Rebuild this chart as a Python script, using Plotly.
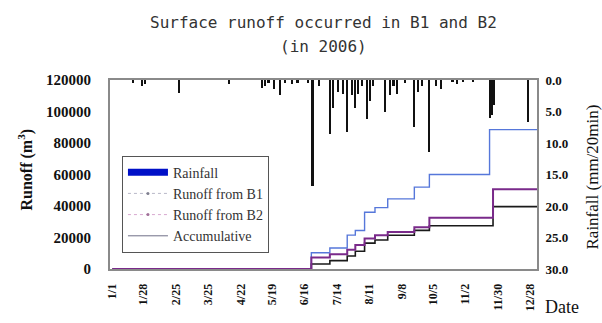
import plotly.graph_objects as go

# ---------------- data ----------------
rain_dates = ["2006-01-19", "2006-01-27", "2006-01-29", "2006-02-28", "2006-04-12",
              "2006-05-10", "2006-05-13", "2006-05-16", "2006-05-21", "2006-05-26",
              "2006-05-30", "2006-06-05", "2006-06-10", "2006-06-19", "2006-06-23",
              "2006-06-29", "2006-07-08", "2006-07-11", "2006-07-15", "2006-07-19",
              "2006-07-23", "2006-07-27", "2006-07-30", "2006-08-01", "2006-08-05",
              "2006-08-09", "2006-08-12", "2006-08-14", "2006-08-25", "2006-08-29",
              "2006-09-01", "2006-09-04", "2006-09-11", "2006-09-19", "2006-09-22",
              "2006-09-26", "2006-10-02", "2006-10-08", "2006-10-12", "2006-10-22",
              "2006-10-26", "2006-10-31", "2006-11-09", "2006-11-23", "2006-11-25",
              "2006-11-27", "2006-12-26"]
rain_mm = [0.4, 0.9, 0.7, 2.1, 0.6,
           1.2, 0.9, 0.4, 1.4, 2.4,
           0.5, 0.7, 0.4, 0.5, 16.8,
           0.9, 8.5, 4.4, 1.9, 2.3,
           8.2, 2.4, 4.4, 2.3, 0.9,
           6.2, 3.4, 1.0, 5.0, 2.4,
           0.9, 2.2, 0.4, 7.4, 1.9,
           0.9, 11.5, 1.0, 1.5, 0.3,
           0.6, 0.3, 0.2, 6.0, 5.5,
           4.0, 6.6]

step_dates = ["2006-01-01", "2006-06-22", "2006-07-08", "2006-07-23", "2006-07-30",
              "2006-08-07", "2006-08-16", "2006-08-27", "2006-09-19", "2006-10-02",
              "2006-11-26", "2007-01-03"]
runoff_b1 = [0, 3200, 5300, 8300, 11300, 16400, 18400, 21400, 24500, 27500, 39600, 39600]
runoff_b2 = [0, 7300, 9300, 12300, 15300, 19400, 21400, 23500, 26500, 32500, 50700, 50700]

accum_dates = ["2006-02-10", "2006-06-22", "2006-07-08", "2006-07-23", "2006-07-30",
               "2006-08-07", "2006-08-16", "2006-08-27", "2006-09-19", "2006-10-02",
               "2006-11-23", "2007-01-03"]
accumulative = [0, 10300, 13300, 21500, 24400, 36000, 39000, 44500, 52000, 60000, 88500, 88500]

tick_dates = ["2006-01-01", "2006-01-28", "2006-02-25", "2006-03-25", "2006-04-22",
              "2006-05-19", "2006-06-16", "2006-07-14", "2006-08-11", "2006-09-08",
              "2006-10-05", "2006-11-02", "2006-11-30", "2006-12-28"]
tick_labels = ["1/1", "1/28", "2/25", "3/25", "4/22", "5/19", "6/16", "7/14",
               "8/11", "9/8", "10/5", "11/2", "11/30", "12/28"]

# ---------------- figure ----------------
SERIF = "Liberation Serif"
fig = go.Figure()

fig.add_trace(go.Bar(x=rain_dates, y=rain_mm, yaxis="y2", width=1.8 * 86400000,
                     marker=dict(color="#111111", line=dict(width=0)),
                     showlegend=False, name="Rainfall"))

fig.add_trace(go.Scatter(x=accum_dates, y=accumulative, mode="lines", line_shape="hv",
                         line=dict(color="#5677da", width=1.4), showlegend=False))
fig.add_trace(go.Scatter(x=step_dates, y=runoff_b1, mode="lines", line_shape="hv",
                         line=dict(color="#1a1a1a", width=1.6), showlegend=False))
fig.add_trace(go.Scatter(x=step_dates, y=runoff_b2, mode="lines", line_shape="hv",
                         line=dict(color="#7a2a8a", width=2.0), showlegend=False))

# legend entries
fig.add_trace(go.Scatter(x=[None], y=[None], mode="lines", name="Rainfall",
                         line=dict(color="#0010c8", width=7)))
fig.add_trace(go.Scatter(x=[None], y=[None], mode="lines+markers", name="Runoff from B1",
                         line=dict(color="#b8b8c8", width=1, dash="dot"),
                         marker=dict(color="#808090", size=3)))
fig.add_trace(go.Scatter(x=[None], y=[None], mode="lines+markers", name="Runoff from B2",
                         line=dict(color="#d8a8d0", width=1, dash="dot"),
                         marker=dict(color="#a07098", size=3)))
fig.add_trace(go.Scatter(x=[None], y=[None], mode="lines", name="Accumulative",
                         line=dict(color="#707088", width=1)))

fig.update_layout(
    width=602, height=323,
    margin=dict(l=110, r=65, t=80, b=45),
    paper_bgcolor="white", plot_bgcolor="white",
    showlegend=True,
    legend=dict(x=0.028, y=0.60, xanchor="left", yanchor="top",
                bgcolor="white", bordercolor="#555555", borderwidth=1,
                font=dict(family=SERIF, size=14, color="#333333"),
                itemwidth=40, tracegroupgap=0),
    xaxis=dict(type="date", range=["2005-12-30", "2007-01-03"],
               tickvals=tick_dates, ticktext=tick_labels, tickangle=-90,
               tickfont=dict(family=SERIF, size=12, color="#111111", weight="bold"),
               showgrid=False, zeroline=False, showline=True, linecolor="#8a8a8a",
               linewidth=2, mirror=True, ticks="", ticklabelstandoff=8),
    yaxis=dict(range=[0, 120000], dtick=20000, tickformat="d",
               tickfont=dict(family=SERIF, size=15, color="#111111", weight="bold"),
               showgrid=False, zeroline=False, showline=True, linecolor="#8a8a8a",
               linewidth=2, mirror=True, ticks="", ticklabelstandoff=14),
    yaxis2=dict(range=[30, 0], dtick=5, tickformat=".1f", overlaying="y", side="right",
                tickfont=dict(family=SERIF, size=13, color="#111111", weight="bold"),
                showgrid=False, zeroline=False, showline=True, linecolor="#8a8a8a",
                linewidth=2, ticks="", ticklabelstandoff=4),
    bargap=0,
)

fig.add_annotation(text="Surface runoff occurred in B1 and B2", xref="paper", yref="paper",
                   x=0.5, y=1, yshift=58, showarrow=False, xanchor="center", yanchor="middle",
                   font=dict(family="DejaVu Sans Mono", size=16, color="#333333"))
fig.add_annotation(text="(in 2006)", xref="paper", yref="paper",
                   x=0.5, y=1, yshift=34, showarrow=False, xanchor="center", yanchor="middle",
                   font=dict(family="DejaVu Sans Mono", size=16, color="#333333"))
fig.add_annotation(text="Runoff (m<sup>3</sup>)", xref="paper", yref="paper",
                   x=0, y=0.5, xshift=-84, yshift=5, textangle=-90, showarrow=False,
                   xanchor="center", yanchor="middle",
                   font=dict(family=SERIF, size=16, color="#111111", weight="bold"))
fig.add_annotation(text="Rainfall (mm/20min)", xref="paper", yref="paper",
                   x=1, y=0.5, xshift=55, yshift=-3, textangle=-90, showarrow=False,
                   xanchor="center", yanchor="middle",
                   font=dict(family=SERIF, size=17, color="#111111"))
fig.add_annotation(text="Date", xref="paper", yref="paper",
                   x=1, y=0, xshift=25, yshift=-38, showarrow=False,
                   xanchor="center", yanchor="middle",
                   font=dict(family=SERIF, size=18, color="#111111"))

fig.write_html("out.html")
